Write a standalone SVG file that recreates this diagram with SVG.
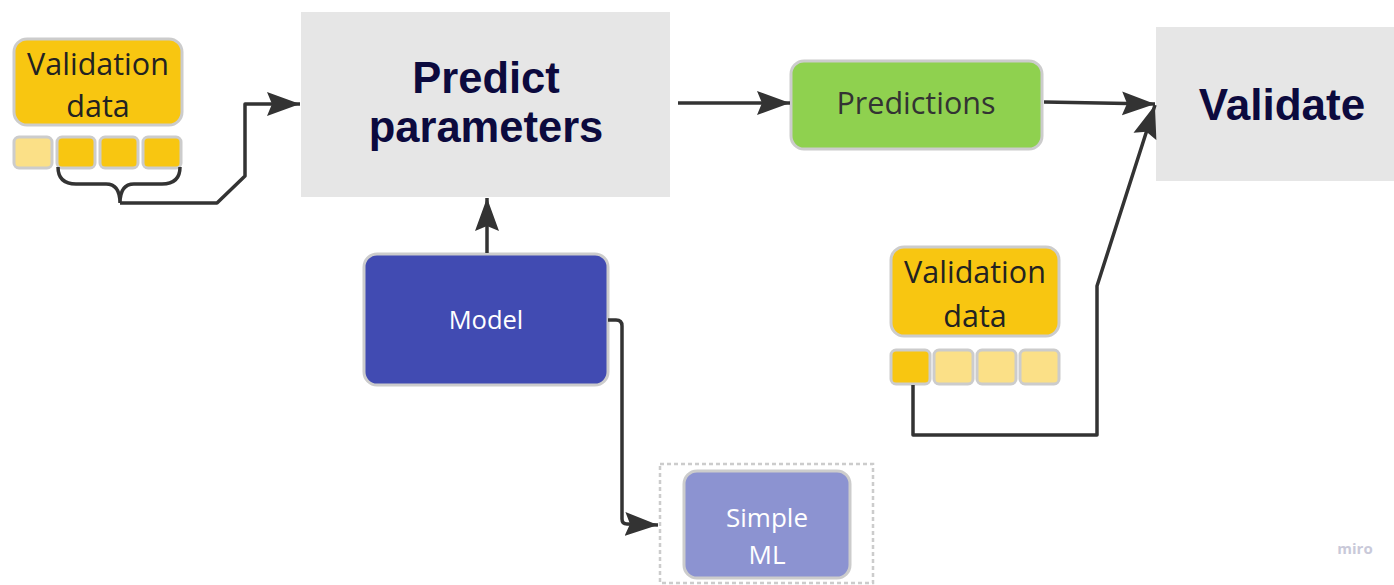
<svg xmlns="http://www.w3.org/2000/svg" width="1394" height="585" viewBox="0 0 1394 585">
<defs>
<marker id="arr" markerUnits="userSpaceOnUse" markerWidth="36" markerHeight="26" refX="33" refY="13" orient="auto">
<path d="M0,1 L33,13 L0,25 L5,13 Z" fill="#333333"/>
</marker>
<style>
.gray{fill:#e6e6e6}
.yb{fill:#f8c611;stroke:#cccccc;stroke-width:3}
.yl{fill:#fbe087;stroke:#cccccc;stroke-width:3}
.lbl{font-family:"Open Sans","Noto Sans",sans-serif;text-anchor:middle}
.big{font-family:"Liberation Sans",Arial,sans-serif;font-weight:bold;fill:#0c0a3e;text-anchor:middle}
.conn{fill:none;stroke:#333333;stroke-width:3.5;stroke-linejoin:round}
</style>
</defs>
<rect width="1394" height="585" fill="#ffffff"/>

<g id="validation-data-left">
<rect class="yb" x="14" y="39" width="168" height="86" rx="13"/>
<text class="lbl" x="98" y="75" font-size="30.5" fill="#222">Validation</text>
<text class="lbl" x="98" y="117" font-size="30.5" fill="#222">data</text>
<rect class="yl" x="14" y="137" width="38" height="31" rx="5"/>
<rect class="yb" x="57" y="137" width="38" height="31" rx="5"/>
<rect class="yb" x="100" y="137" width="38" height="31" rx="5"/>
<rect class="yb" x="143" y="137" width="38" height="31" rx="5"/>
</g>

<g id="predict-parameters">
<rect class="gray" x="301" y="12" width="369" height="185"/>
<text class="big" x="486" y="93" font-size="43.5">Predict</text>
<text class="big" x="486" y="142" font-size="43.5">parameters</text>
</g>

<g id="predictions">
<rect x="791" y="61" width="251" height="88" rx="13" fill="#8fd14f" stroke="#cccccc" stroke-width="3"/>
<text class="lbl" x="916" y="114" font-size="30.5" fill="#333">Predictions</text>
</g>

<g id="validate">
<rect class="gray" x="1156" y="27" width="238" height="154"/>
<text class="big" x="1282" y="120" font-size="44">Validate</text>
</g>

<g id="model">
<rect x="364" y="254" width="244" height="131" rx="13" fill="#414bb2" stroke="#cccccc" stroke-width="3"/>
<text class="lbl" x="486" y="329" font-size="25.5" fill="#ffffff">Model</text>
</g>

<g id="simple-ml">
<rect x="660" y="464" width="213" height="119" fill="none" stroke="#cccccc" stroke-width="2.5" stroke-dasharray="4,3"/>
<rect x="684" y="471" width="166" height="107" rx="13" fill="#8c93d1" stroke="#cccccc" stroke-width="3"/>
<text class="lbl" x="767" y="527" font-size="26" fill="#ffffff">Simple</text>
<text class="lbl" x="767" y="564" font-size="26" fill="#ffffff">ML</text>
</g>

<g id="validation-data-right">
<rect class="yb" x="891" y="247" width="168" height="89" rx="13"/>
<text class="lbl" x="975" y="283" font-size="30.5" fill="#222">Validation</text>
<text class="lbl" x="975" y="327" font-size="30.5" fill="#222">data</text>
<rect class="yb" x="891" y="350" width="39" height="34" rx="5"/>
<rect class="yl" x="934" y="350" width="39" height="34" rx="5"/>
<rect class="yl" x="977" y="350" width="39" height="34" rx="5"/>
<rect class="yl" x="1020" y="350" width="39" height="34" rx="5"/>
</g>

<g id="connectors">
<path class="conn" stroke="#222" d="M58,167 Q58,184 76,184 L106,184 Q120,184 120,203 M180,167 Q180,184 162,184 L134,184 Q120,184 120,203"/>
<path class="conn" d="M120,203 L217,203 L245,176 L245,104 L300,104" marker-end="url(#arr)"/>
<path class="conn" d="M678,103 L790,103" marker-end="url(#arr)"/>
<path class="conn" d="M1044,102 L1155,104" marker-end="url(#arr)"/>
<path class="conn" d="M487,253 L487,198" marker-end="url(#arr)"/>
<path class="conn" d="M608,320 L616,320 Q622,320 622,326 L622,519 Q622,524 627,524 L658,525" marker-end="url(#arr)"/>
<path class="conn" d="M913,385 L913,435 L1097,435 L1097,286 L1155,105" marker-end="url(#arr)"/>
</g>

<text x="1355" y="554" font-family="'Open Sans','Liberation Sans',sans-serif" font-weight="bold" font-size="15" fill="#c9c9d9" text-anchor="middle">miro</text>
</svg>
